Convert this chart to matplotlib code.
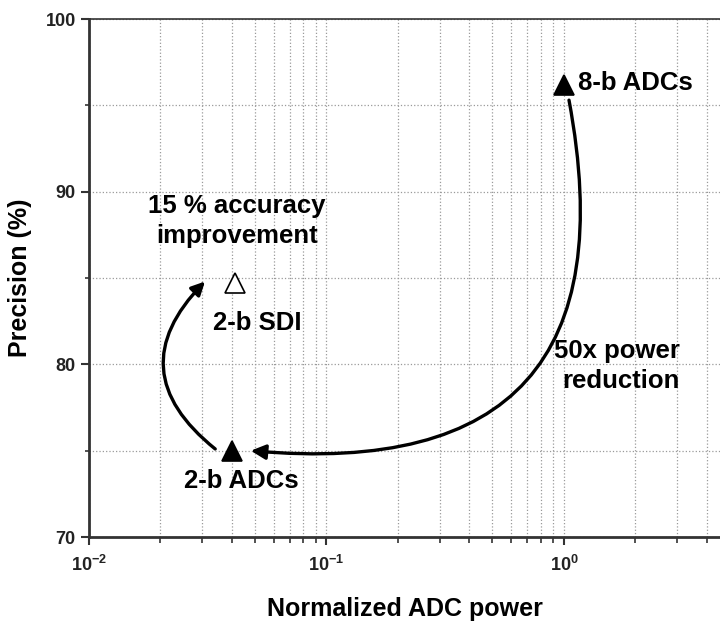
import numpy as np
import matplotlib
matplotlib.use("Agg")
import matplotlib.pyplot as plt
from matplotlib.ticker import LogLocator, MultipleLocator

plt.rcParams['font.family'] = ['Liberation Sans', 'DejaVu Sans']
plt.rcParams['font.weight'] = 'bold'
plt.rcParams['mathtext.fontset'] = 'custom'
plt.rcParams['mathtext.rm'] = 'Liberation Sans:bold'
plt.rcParams['mathtext.default'] = 'regular'

# data
labels = ["8-b ADCs", "2-b ADCs", "2-b SDI"]
power = [1.0, 0.040, 0.041]
precision = [96.2, 75.0, 84.7]
filled = [True, True, False]

fig = plt.figure(figsize=(7.2, 6.23), dpi=100)
ax = fig.add_axes([0.1236, 0.138, 0.8764, 0.8315])

for p, a, f in zip(power, precision, filled):
    ax.plot(p, a, marker='^', ms=15, ls='none',
            mfc='black' if f else 'white', mec='black', mew=1.2, zorder=5)

ax.set_xscale('log')
ax.set_xlim(0.01, 10 ** 0.657)
ax.set_ylim(70, 100)
ax.xaxis.set_major_locator(LogLocator(base=10, numticks=10))
ax.xaxis.set_minor_locator(LogLocator(base=10, subs=np.arange(2, 10), numticks=20))
ax.yaxis.set_major_locator(MultipleLocator(10))
ax.yaxis.set_minor_locator(MultipleLocator(5))

ax.grid(True, which='both', ls=':', color='#9a9a9a', lw=0.9)
ax.set_axisbelow(True)

for s in ['left', 'bottom', 'top']:
    ax.spines[s].set_linewidth(2)
    ax.spines[s].set_color('#333333')
ax.spines['top'].set_linewidth(1.2)
ax.spines['right'].set_visible(False)

ax.tick_params(which='major', direction='out', length=6, width=1.5, labelsize=13,
               color='#333333', labelcolor='#222222')
ax.tick_params(which='minor', direction='out', length=4, width=1.2, color='#333333')
ax.tick_params(axis='y', which='minor', length=3)
ax.tick_params(axis='x', which='major', pad=7)
for t in ax.get_xticklabels() + ax.get_yticklabels():
    t.set_fontweight('bold')

ax.set_xlabel("Normalized ADC power", fontsize=18, fontweight='bold', labelpad=16)
ax.set_ylabel("Precision (%)", fontsize=18, fontweight='bold', labelpad=10)

# point labels
fs = 18.5
ax.text(1.145, 96.3, labels[0], fontsize=fs, fontweight='bold', va='center', ha='left')
ax.text(0.0437, 73.25, labels[1], fontsize=fs, fontweight='bold', va='center', ha='center')
ax.text(0.051, 82.4, labels[2], fontsize=fs, fontweight='bold', va='center', ha='center')
ax.text(0.042, 88.3, "15 % accuracy\nimprovement", fontsize=fs, fontweight='bold',
        va='center', ha='center', linespacing=1.35)
ax.text(3.08, 79.9, "50x power\nreduction", fontsize=fs, fontweight='bold',
        va='center', ha='right', multialignment='right', linespacing=1.35)

# curved arrows
ax.annotate("", xy=(0.048, 75.0), xytext=(1.05, 95.3),
            arrowprops=dict(arrowstyle='-|>', lw=2.4, color='black',
                            mutation_scale=22, shrinkA=0, shrinkB=0,
                            connectionstyle="arc3,rad=-0.66"))
ax.annotate("", xy=(0.0308, 84.8), xytext=(0.034, 75.1),
            arrowprops=dict(arrowstyle='-|>', lw=2.4, color='black',
                            mutation_scale=20, shrinkA=0, shrinkB=0,
                            connectionstyle="arc3,rad=-0.55"))

fig.savefig("out.png", dpi=100)
